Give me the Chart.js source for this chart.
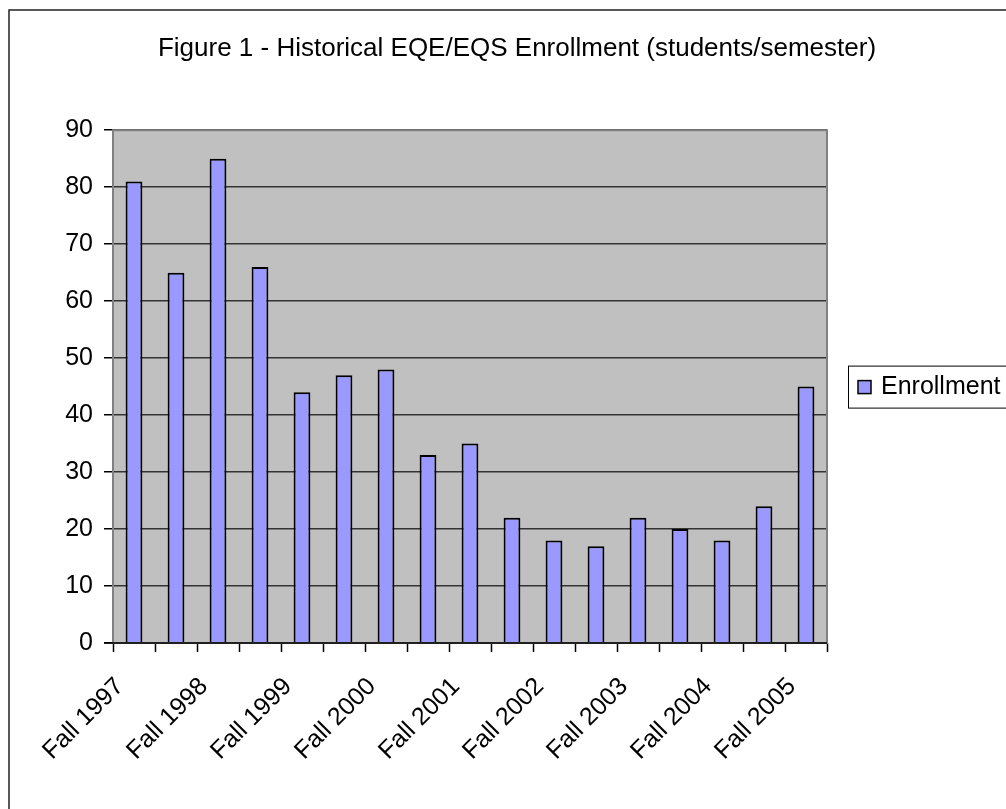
<!DOCTYPE html>
<html>
<head>
<meta charset="utf-8">
<script src="https://cdn.jsdelivr.net/npm/chart.js@4.4.1/dist/chart.umd.min.js"></script>
<style>
  html, body { margin: 0; padding: 0; background: #fff; }
  #wrap { width: 1006px; height: 809px; position: relative; }
</style>
</head>
<body>
<div id="wrap"><canvas id="chart"></canvas></div>
<script>
// semesters, only the Fall ones get a label on the axis
const semesters = [
  'Fall 1997', 'Spring 1998', 'Fall 1998', 'Spring 1999', 'Fall 1999', 'Spring 2000',
  'Fall 2000', 'Spring 2001', 'Fall 2001', 'Spring 2002', 'Fall 2002', 'Spring 2003',
  'Fall 2003', 'Spring 2004', 'Fall 2004', 'Spring 2005', 'Fall 2005'
];
const enrollment = [81, 65, 85, 66, 44, 47, 48, 33, 35, 22, 18, 17, 22, 20, 18, 24, 45];
const yTicks = [0, 10, 20, 30, 40, 50, 60, 70, 80, 90];

const FONT = "'Liberation Sans', Arial, sans-serif";
const BAR_COLOR = '#9999FF';

// frame, gray plot area, plot border and the boxed legend on the right
const excelLook = {
  id: 'excelLook',
  beforeDraw(chart) {
    const { ctx, chartArea: a } = chart;
    ctx.save();
    ctx.fillStyle = '#C0C0C0';
    ctx.fillRect(a.left, a.top, a.right - a.left, a.bottom - a.top);
    ctx.restore();
  },
  afterDatasetsDraw(chart) {
    const { ctx, chartArea: a } = chart;
    ctx.save();
    ctx.strokeStyle = '#808080';
    ctx.lineWidth = 2;
    ctx.strokeRect(a.left, a.top, a.right - a.left, a.bottom - a.top);
    ctx.strokeStyle = '#000';
    ctx.lineWidth = 1.5;
    ctx.beginPath();
    ctx.moveTo(a.left - 9, a.bottom);
    ctx.lineTo(a.right, a.bottom);
    ctx.stroke();
    ctx.restore();
  },
  afterDraw(chart) {
    const { ctx, chartArea: a } = chart;
    ctx.save();
    // outer chart frame (cut off at right and bottom like the picture)
    ctx.strokeStyle = '#222';
    ctx.lineWidth = 1.5;
    ctx.strokeRect(9, 10, 1100, 1100);

    // legend box
    const ds = chart.data.datasets[0];
    const cy = (a.top + a.bottom) / 2;
    const bx = a.right + 21;
    ctx.fillStyle = '#fff';
    ctx.fillRect(bx, cy - 21, 200, 43);
    ctx.strokeStyle = '#000';
    ctx.lineWidth = 1;
    ctx.strokeRect(bx + 0.5, cy - 21 + 0.5, 200, 42);
    ctx.fillStyle = ds.backgroundColor;
    ctx.fillRect(bx + 10, cy - 6, 13, 13);
    ctx.lineWidth = 1.5;
    ctx.strokeRect(bx + 10, cy - 6, 13, 13);
    ctx.fillStyle = '#000';
    ctx.font = '25px ' + FONT;
    ctx.textBaseline = 'middle';
    ctx.fillText(ds.label, bx + 33, cy + 1);
    ctx.restore();
  }
};

new Chart(document.getElementById('chart'), {
  type: 'bar',
  data: {
    labels: semesters,
    datasets: [{
      label: 'Enrollment',
      data: enrollment,
      backgroundColor: BAR_COLOR,
      borderColor: '#000',
      borderWidth: 2,
      borderSkipped: 'bottom',
      barPercentage: 0.4,
      categoryPercentage: 1.0
    }]
  },
  options: {
    responsive: true,
    maintainAspectRatio: false,
    animation: false,
    layout: { padding: { left: 28, right: 0, top: 0, bottom: 0 } },
    plugins: {
      legend: { display: false },
      tooltip: { enabled: false },
      title: {
        display: true,
        text: 'Figure 1 - Historical EQE/EQS Enrollment (students/semester)',
        color: '#000',
        font: { family: FONT, size: 26, weight: 'normal', lineHeight: 1.2 },
        padding: { top: 33, bottom: 66 }
      }
    },
    scales: {
      x: {
        offset: true,
        afterFit: s => { s.height = 166; },
        grid: { display: true, offset: true, drawOnChartArea: false, tickLength: 9, tickColor: '#000', tickWidth: 1.5 },
        border: { display: false },
        ticks: {
          autoSkip: false,
          maxRotation: 45,
          minRotation: 45,
          padding: 20,
          labelOffset: -14,
          color: '#000',
          font: { family: FONT, size: 25 },
          callback: function (v, i) {
            const l = this.getLabelForValue(v);
            return l.startsWith('Fall') ? l : '';
          }
        }
      },
      y: {
        min: 0,
        max: 90,
        afterFit: s => { s.width = 85; },
        afterBuildTicks: s => { s.ticks = yTicks.map(v => ({ value: v })); },
        grid: { color: '#333', lineWidth: 1.5, tickLength: 9, tickColor: '#000', tickWidth: 1.5 },
        border: { display: false },
        ticks: {
          padding: 11,
          color: '#000',
          font: { family: FONT, size: 25 }
        }
      },
      right: {
        position: 'right',
        display: true,
        afterFit: s => { s.width = 179; },
        grid: { display: false },
        border: { display: false },
        ticks: { display: false }
      }
    }
  },
  plugins: [excelLook]
});
</script>
</body>
</html>
